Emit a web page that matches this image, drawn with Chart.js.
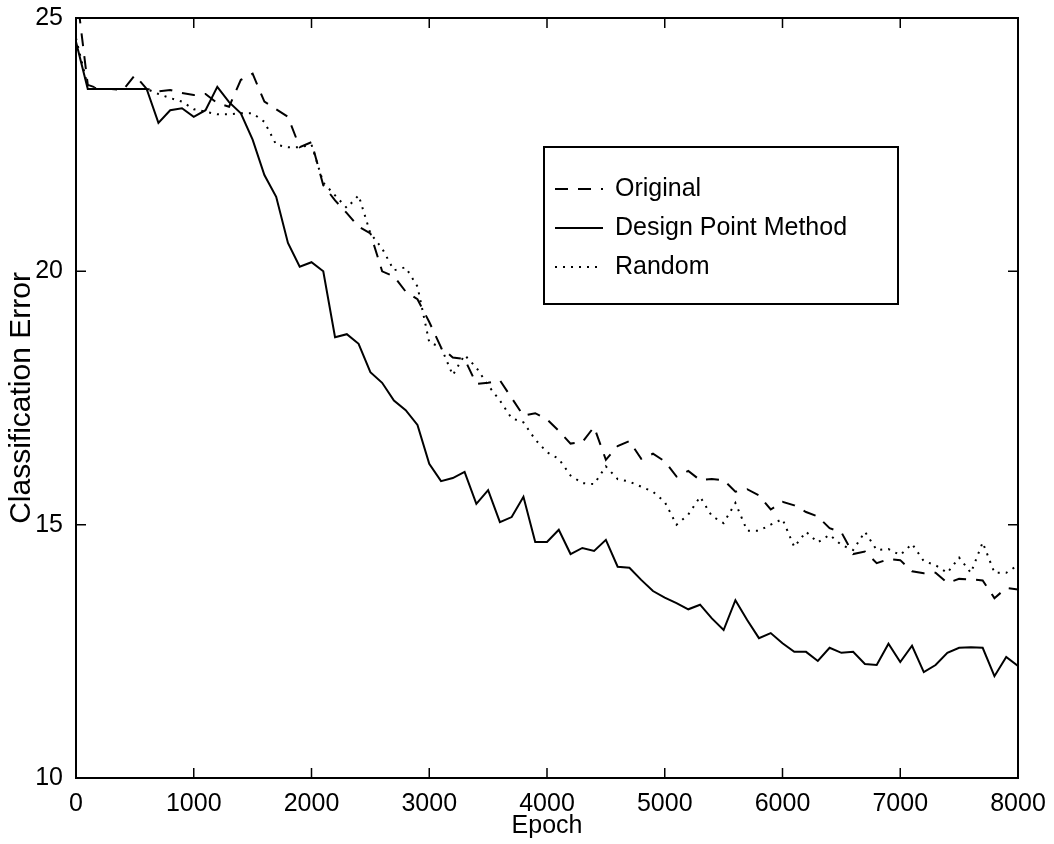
<!DOCTYPE html>
<html>
<head>
<meta charset="utf-8">
<script src="https://cdn.jsdelivr.net/npm/chart.js@4.4.1/dist/chart.umd.min.js"></script>
<style>
  body { margin: 0; background: #fff; }
</style>
</head>
<body>
<canvas id="errChart" width="1054" height="844"></canvas>
<script>
  // epochs (x values)
  let epochs = [0,100,200,300,400,500,600,700,800,900,
    1000,1100,1200,1300,1400,1500,1600,1700,1800,1900,
    2000,2100,2200,2300,2400,2500,2600,2700,2800,2900,
    3000,3100,3200,3300,3400,3500,3600,3700,3800,3900,
    4000,4100,4200,4300,4400,4500,4600,4700,4800,4900,
    5000,5100,5200,5300,5400,5500,5600,5700,5800,5900,
    6000,6100,6200,6300,6400,6500,6600,6700,6800,6900,
    7000,7100,7200,7300,7400,7500,7600,7700,7800,7900,8000]

  let original = [25.6,23.68,23.6,23.6,23.58,23.87,23.6,23.55,23.58,23.52,
    23.48,23.5,23.32,23.25,23.78,23.9,23.35,23.2,23.05,22.45,
    22.55,21.7,21.4,21.15,20.88,20.75,20.0,19.9,19.6,19.45,
    19.0,18.5,18.3,18.27,17.78,17.8,17.85,17.5,17.15,17.2,
    17.08,16.85,16.6,16.63,16.93,16.28,16.55,16.65,16.3,16.4,
    16.25,15.95,16.06,15.88,15.9,15.88,15.65,15.7,15.58,15.3,
    15.45,15.38,15.25,15.16,14.93,14.85,14.42,14.47,14.24,14.32,
    14.3,14.08,14.04,14.05,13.85,13.93,13.92,13.9,13.55,13.75,13.72]

  let designPoint = [24.53,23.6,23.6,23.6,23.6,23.6,23.6,22.93,23.18,23.22,
    23.05,23.18,23.64,23.34,23.12,22.6,21.9,21.47,20.56,20.09,
    20.18,20.0,18.7,18.76,18.57,18.01,17.8,17.45,17.26,16.97,
    16.2,15.86,15.92,16.04,15.41,15.68,15.05,15.15,15.55,14.66,
    14.66,14.9,14.42,14.54,14.48,14.7,14.17,14.15,13.91,13.69,
    13.56,13.45,13.33,13.42,13.15,12.92,13.51,13.12,12.76,12.86,
    12.66,12.49,12.49,12.31,12.57,12.47,12.49,12.25,12.23,12.65,
    12.29,12.61,12.09,12.23,12.47,12.57,12.58,12.57,12.01,12.39,12.21]

  let random = [24.6,23.65,23.6,23.6,23.6,23.6,23.6,23.5,23.42,23.35,
    23.2,23.15,23.1,23.1,23.12,23.12,22.95,22.5,22.45,22.45,
    22.5,21.75,21.5,21.25,21.5,20.75,20.45,20.02,20.08,19.7,
    18.6,18.5,17.95,18.35,18.1,17.75,17.45,17.1,17.02,16.68,
    16.43,16.3,15.97,15.82,15.8,16.15,15.9,15.85,15.75,15.65,
    15.45,15.0,15.2,15.55,15.17,15.03,15.43,14.88,14.88,15.0,
    15.11,14.56,14.86,14.65,14.8,14.6,14.5,14.86,14.5,14.52,
    14.4,14.62,14.28,14.2,14.05,14.35,14.05,14.65,14.05,14.05,14.2]

  let xTicks = [0,1000,2000,3000,4000,5000,6000,7000,8000]
  let yTicks = [10,15,20,25]

  function toPoints(values){
    let pts = []
    for(let i = 0; i < epochs.length; i++){
      pts.push({x: epochs[i], y: values[i]})
    }
    return pts
  }

  const FONT = "'Liberation Sans', Arial, Helvetica, sans-serif"
  Chart.defaults.font.family = FONT
  Chart.defaults.color = '#000'

  // box round the plot, inward ticks on all four sides, legend inside
  const framePlugin = {
    id: 'framePlugin',
    afterDatasetsDraw(chart){
      let ctx = chart.ctx
      let a = chart.chartArea
      let xs = chart.scales.x
      let ys = chart.scales.y
      ctx.save()
      ctx.strokeStyle = '#000'
      ctx.setLineDash([])
      ctx.lineWidth = 2
      ctx.strokeRect(a.left, a.top, a.right - a.left, a.bottom - a.top)
      ctx.lineWidth = 1.5
      ctx.beginPath()
      for(let t of xs.ticks){
        let px = xs.getPixelForValue(t.value)
        ctx.moveTo(px, a.bottom); ctx.lineTo(px, a.bottom - 10)
        ctx.moveTo(px, a.top); ctx.lineTo(px, a.top + 10)
      }
      for(let t of ys.ticks){
        let py = ys.getPixelForValue(t.value)
        ctx.moveTo(a.left, py); ctx.lineTo(a.left + 10, py)
        ctx.moveTo(a.right, py); ctx.lineTo(a.right - 10, py)
      }
      ctx.stroke()

      // legend
      let lx = 544, ly = 147, lw = 354, lh = 157
      ctx.fillStyle = '#fff'
      ctx.fillRect(lx, ly, lw, lh)
      ctx.lineWidth = 2
      ctx.strokeRect(lx, ly, lw, lh)
      ctx.font = '25px ' + FONT
      ctx.textBaseline = 'middle'
      ctx.fillStyle = '#000'
      let rows = [189, 228, 267]
      chart.data.datasets.forEach((ds, i) => {
        let yy = rows[i]
        ctx.beginPath()
        ctx.lineWidth = ds.borderWidth
        ctx.setLineDash(ds.borderDash || [])
        ctx.moveTo(555, yy)
        ctx.lineTo(603, yy)
        ctx.stroke()
        ctx.setLineDash([])
        ctx.fillText(ds.label, 615, yy)
      })
      ctx.restore()
    }
  }

  let ctx = document.getElementById('errChart').getContext('2d')
  let errChart = new Chart(ctx, {
    type: 'line',
    data: {
      datasets: [{
        label: 'Original',
        data: toPoints(original),
        borderColor: '#000',
        borderWidth: 2,
        borderDash: [13, 10]
      }, {
        label: 'Design Point Method',
        data: toPoints(designPoint),
        borderColor: '#000',
        borderWidth: 2
      }, {
        label: 'Random',
        data: toPoints(random),
        borderColor: '#000',
        borderWidth: 2,
        borderDash: [2, 6]
      }]
    },
    options: {
      responsive: false,
      devicePixelRatio: 1,
      animation: false,
      elements: { point: { radius: 0 }, line: { tension: 0 } },
      layout: { padding: { top: 18, right: 36, left: 0, bottom: 0 } },
      plugins: { legend: { display: false }, tooltip: { enabled: false } },
      scales: {
        x: {
          type: 'linear',
          min: 0,
          max: 8000,
          afterBuildTicks: s => { s.ticks = xTicks.map(v => ({value: v})) },
          afterFit: s => { s.height = 66; s.paddingLeft = 0; s.paddingRight = 0 },
          grid: { display: false, drawTicks: false },
          border: { display: false },
          ticks: { font: { size: 25 }, padding: 11, maxRotation: 0, autoSkip: false,
                   callback: v => String(v) },
          title: { display: true, text: 'Epoch', font: { size: 25 }, padding: { top: 0, bottom: 3 } }
        },
        y: {
          min: 10,
          max: 25,
          afterBuildTicks: s => { s.ticks = yTicks.map(v => ({value: v})) },
          afterFit: s => { s.width = 76; s.paddingTop = 0; s.paddingBottom = 0 },
          grid: { display: false, drawTicks: false },
          border: { display: false },
          ticks: { font: { size: 25 }, padding: 13, callback: v => String(v) },
          title: { display: true, text: 'Classification Error', font: { size: 30 }, padding: { top: 4, bottom: 0 } }
        }
      }
    },
    plugins: [framePlugin]
  })
</script>
</body>
</html>
